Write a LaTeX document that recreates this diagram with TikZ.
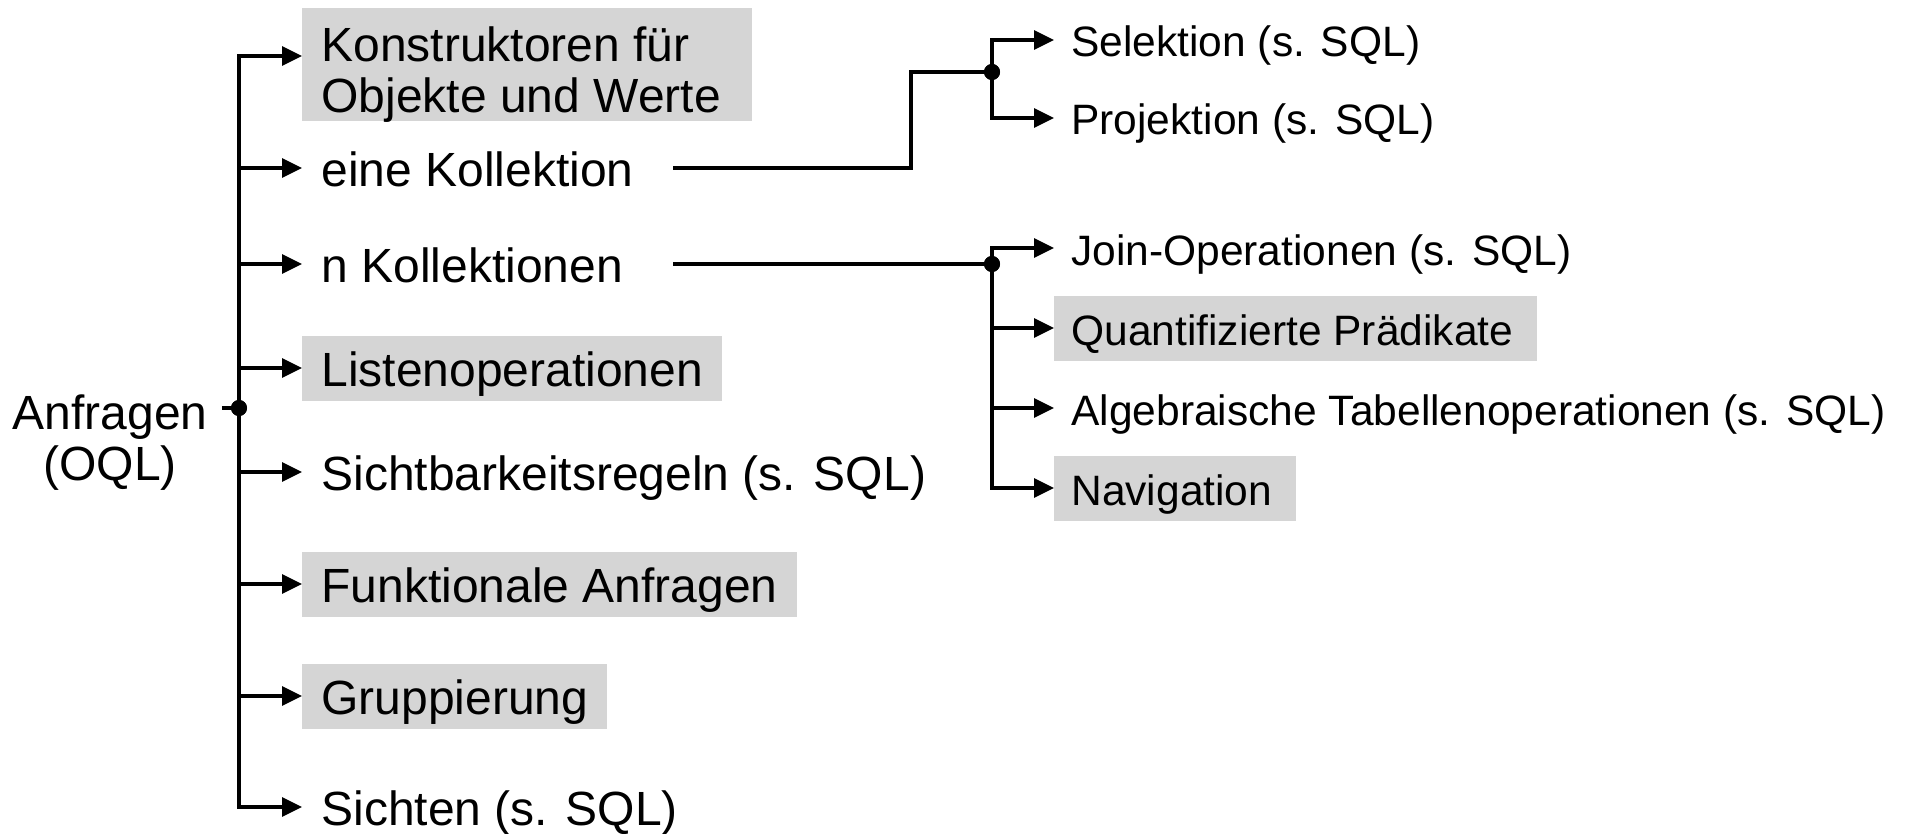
\documentclass[tikz,border=0pt]{standalone}
\usepackage{fontspec}
\setmainfont{Liberation Sans}
\usetikzlibrary{arrows.meta}
\definecolor{boxgray}{RGB}{213,213,213}
\newcommand\leftsz{\fontsize{24pt}{25.5pt}\selectfont}
\newcommand\rightsz{\fontsize{21.25pt}{23pt}\selectfont}
\begin{document}
\begin{tikzpicture}[x=0.5pt,y=-0.5pt,
  ln/.style={line width=1.7pt},
  arr/.style={ln,-{Triangle[length=10pt,width=9.5pt]}},
  litem/.style={anchor=west,inner xsep=9.5pt,inner ysep=0pt,text height=25.5pt,text depth=7pt,font=\leftsz},
  lbox/.style={litem,fill=boxgray},
  ritem/.style={anchor=west,inner xsep=8.5pt,inner ysep=0pt,text height=24.75pt,text depth=7.75pt,font=\rightsz},
  rbox/.style={ritem,fill=boxgray,execute at end node={\kern3.5pt}},
  junction/.style={circle,fill=black,inner sep=0pt,minimum size=8pt}]
\useasboundingbox (0,0) rectangle (1910,834);

% root
\node[font=\leftsz,align=center,anchor=north,inner sep=0pt] (anf) at (110,394) {Anfragen\\(OQL)};
\node[junction] (dot) at (239,408) {};

% left items
\node[lbox,anchor=base west,text height=52.5pt,text depth=4pt] (konst) at (302,113)
  {\vbox{\hbox{Konstruktoren für}\hbox{Objekte und Werte\kern6pt}}};
\node[litem] (eine) at (302,168) {eine Kollektion};
\node[litem] (nkol) at (302,264) {n Kollektionen};
\node[lbox] (liste) at (302,368) {Listenoperationen};
\node[litem] (sicht) at (302,472) {Sichtbarkeitsregeln (s. SQL)};
\node[lbox] (funk) at (302,584) {Funktionale Anfragen};
\node[lbox] (grup) at (302,696) {Gruppierung};
\node[litem] (sichten) at (302,807) {Sichten (s. SQL)};

\coordinate (t1) at (239,56);
\coordinate (t2) at (239,168);
\coordinate (t3) at (239,264);
\coordinate (t4) at (239,368);
\coordinate (t5) at (239,472);
\coordinate (t6) at (239,584);
\coordinate (t7) at (239,696);
\coordinate (t8) at (239,807);

\draw[ln] ([xshift=7pt]anf.east |- dot) -- (dot.center);
\draw[arr] (dot.center) -- (t1) -- (t1 -| konst.west);
\draw[arr] (dot.center) -- (t8) -- (sichten.west);
\draw[arr] (t2) -- (eine.west);
\draw[arr] (t3) -- (nkol.west);
\draw[arr] (t4) -- (liste.west);
\draw[arr] (t5) -- (sicht.west);
\draw[arr] (t6) -- (funk.west);
\draw[arr] (t7) -- (grup.west);

% right items
\node[ritem] (sel) at (1054,40) {Selektion (s. SQL)};
\node[ritem] (proj) at (1054,118) {Projektion (s. SQL)};
\node[ritem] (join) at (1054,248) {Join-Operationen (s. SQL)};
\node[rbox] (quant) at (1054,328) {Quantifizierte Prädikate};
\node[ritem] (alg) at (1054,408) {Algebraische Tabellenoperationen (s. SQL)};
\node[rbox] (nav) at (1054,488) {Navigation};

\node[junction] (dotA) at (992,72) {};
\node[junction] (dotB) at (992,264) {};
\coordinate (r1) at (992,40);
\coordinate (r2) at (992,118);
\coordinate (r3) at (992,248);
\coordinate (r4) at (992,328);
\coordinate (r5) at (992,408);
\coordinate (r6) at (992,488);

\draw[arr] (dotA.center) -- (r1) -- (sel.west);
\draw[arr] (dotA.center) -- (r2) -- (proj.west);
\draw[arr] (dotB.center) -- (r3) -- (join.west);
\draw[arr] (dotB.center) -- (r6) -- (nav.west);
\draw[arr] (r4) -- (quant.west);
\draw[arr] (r5) -- (alg.west);

% connectors from the collections
\coordinate (e1) at (673,168);
\coordinate (bend) at (911,72);
\coordinate (n1) at (673,264);
\draw[ln] (e1) -| (bend) -- (dotA.center);
\draw[ln] (n1) -- (dotB.center);

% junction dots on top
\fill (dot) circle (4pt);
\fill (dotA) circle (4pt);
\fill (dotB) circle (4pt);
\end{tikzpicture}
\end{document}
